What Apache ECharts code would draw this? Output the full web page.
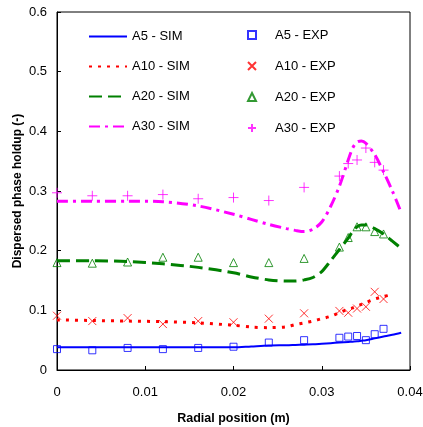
<!DOCTYPE html>
<html>
<head>
<meta charset="utf-8">
<script src="https://cdn.jsdelivr.net/npm/echarts@6/dist/echarts.min.js"></script>
<style>html,body{margin:0;padding:0;background:#fff;}#c{width:423px;height:427px;}</style>
</head>
<body>
<div id="c"></div>
<script>
// Tick values
const xTicks = [0, 0.01, 0.02, 0.03, 0.04];
const yTicks = [0, 0.1, 0.2, 0.3, 0.4, 0.5, 0.6];

// Simulation curves (radial position, m)
const simX = [0, 0.004, 0.008, 0.012, 0.016, 0.020, 0.022, 0.024, 0.026, 0.027, 0.028, 0.029, 0.030, 0.031, 0.032, 0.033, 0.0335, 0.034, 0.0345, 0.035, 0.036, 0.037, 0.038, 0.039];
const a5Sim  = [0.038, 0.038, 0.038, 0.038, 0.038, 0.038, 0.0395, 0.041, 0.0415, 0.042, 0.0425, 0.043, 0.044, 0.045, 0.046, 0.047, 0.0475, 0.048, 0.049, 0.050, 0.053, 0.056, 0.059, 0.0625];
const a10Sim = [0.084, 0.083, 0.082, 0.081, 0.079, 0.075, 0.072, 0.071, 0.0725, 0.076, 0.079, 0.082, 0.086, 0.090, 0.096, 0.102, 0.104, 0.107, 0.110, 0.113, 0.119, 0.123, 0.127, null];
const a20Sim = [0.183, 0.183, 0.182, 0.178, 0.172, 0.163, 0.156, 0.151, 0.149, 0.149, 0.151, 0.155, 0.165, 0.183, 0.202, 0.221, 0.232, 0.240, 0.243, 0.243, 0.237, 0.228, 0.216, 0.204];
const a30Sim = [0.283, 0.283, 0.283, 0.282, 0.275, 0.261, 0.2525, 0.244, 0.237, 0.234, 0.232, 0.236, 0.248, 0.274, 0.308, 0.352, 0.372, 0.382, 0.384, 0.380, 0.361, 0.332, 0.300, 0.264];

// Experimental points
const expX = [0, 0.004, 0.008, 0.012, 0.016, 0.020, 0.024, 0.028, 0.032, 0.033, 0.034, 0.035, 0.036, 0.037];
const a5Exp  = [0.035, 0.033, 0.037, 0.035, 0.037, 0.039, 0.046, 0.050, 0.054, 0.056, 0.057, 0.050, 0.060, 0.069];
const a10Exp = [0.091, 0.082, 0.087, 0.077, 0.082, 0.080, 0.086, 0.095, 0.099, 0.096, 0.103, 0.106, 0.131, 0.119];
const a20Exp = [0.180, 0.179, 0.181, 0.189, 0.189, 0.180, 0.180, 0.187, 0.206, 0.222, 0.240, 0.240, 0.232, 0.228];
const a30Exp = [0.297, 0.292, 0.292, 0.294, 0.287, 0.289, 0.284, 0.306, 0.325, 0.346, 0.352, 0.372, 0.348, 0.335];

const simNames = ['A5 - SIM', 'A10 - SIM', 'A20 - SIM', 'A30 - SIM'];
const expNames = ['A5 - EXP', 'A10 - EXP', 'A20 - EXP', 'A30 - EXP'];

const pair = (xs, ys) => xs.map((x, i) => [x, ys[i]]);
const FONT = '"Liberation Sans", Arial, Helvetica, sans-serif';

const chart = echarts.init(document.getElementById('c'), null, {renderer: 'canvas'});

function simSeries(name, ys, color, width, dash) {
  return {
    name, type: 'line', data: pair(simX, ys), showSymbol: false, symbol: 'none',
    smooth: 0.3, connectNulls: false,
    lineStyle: {color, width, type: dash, cap: 'butt'},
    itemStyle: {color, opacity: 0}, emphasis: {disabled: true}, z: 2
  };
}
function expSeries(name, ys, color, symbol, size) {
  return {
    name, type: 'scatter', data: pair(expX, ys), symbol, symbolSize: size,
    itemStyle: {color: 'rgba(0,0,0,0)', borderColor: color, borderWidth: 1},
    emphasis: {disabled: true}, z: 3
  };
}

chart.setOption({
  animation: false,
  backgroundColor: '#fff',
  grid: {left: 57, right: 13, top: 12, bottom: 57, show: true, borderColor: '#000', borderWidth: 1,
    backgroundColor: 'transparent', containLabel: false, outerBoundsMode: 'none'},
  xAxis: {
    type: 'value', min: xTicks[0], max: xTicks[xTicks.length - 1], interval: 0.01,
    name: 'Radial position (m)', nameLocation: 'middle', nameGap: 42, nameMoveOverlap: false,
    nameTextStyle: {fontFamily: FONT, fontSize: 12.5, fontWeight: 'bold', color: '#000'},
    axisLine: {show: true, lineStyle: {color: '#000', width: 1}},
    axisTick: {show: true, inside: true, length: 4, lineStyle: {color: '#000'}},
    axisLabel: {fontFamily: FONT, fontSize: 13, color: '#000', margin: 16,
      formatter: v => String(Math.round(v * 1000) / 1000)},
    splitLine: {show: false}
  },
  yAxis: {
    type: 'value', min: yTicks[0], max: yTicks[yTicks.length - 1], interval: 0.1,
    name: 'Dispersed phase holdup (-)', nameLocation: 'middle', nameGap: 33, nameMoveOverlap: false,
    nameTextStyle: {fontFamily: FONT, fontSize: 12, fontWeight: 'bold', color: '#000'},
    axisLine: {show: true, lineStyle: {color: '#000', width: 1}},
    axisTick: {show: true, inside: true, length: 4, lineStyle: {color: '#000'}},
    axisLabel: {fontFamily: FONT, fontSize: 13, color: '#000', margin: 10,
      formatter: v => String(Math.round(v * 10) / 10)},
    splitLine: {show: false}
  },
  legend: [
    {
      data: simNames, orient: 'vertical', left: 88, top: 30, padding: 0,
      itemWidth: 38, itemHeight: 14, itemGap: 17,
      textStyle: {fontFamily: FONT, fontSize: 13, color: '#000'},
      selectedMode: false
    },
    {
      data: expNames, orient: 'vertical', left: 247, top: 28, padding: 0,
      itemWidth: 8, itemHeight: 8, itemGap: 17,
      textStyle: {fontFamily: FONT, fontSize: 13, color: '#000', lineHeight: 14, padding: [0, 0, 0, 14]},
      selectedMode: false
    }
  ],
  series: [
    simSeries(simNames[0], a5Sim, '#0000ff', 2, 'solid'),
    simSeries(simNames[1], a10Sim, '#ff0000', 3, [3, 6]),
    simSeries(simNames[2], a20Sim, '#008000', 3, [13, 6]),
    simSeries(simNames[3], a30Sim, '#ff00ff', 3, [11, 5, 3, 5]),
    expSeries(expNames[0], a5Exp, '#0000ff', 'rect', 7),
    expSeries(expNames[1], a10Exp, '#ff0000', 'path://M0,0L10,10M10,0L0,10', 8),
    expSeries(expNames[2], a20Exp, '#008000', 'triangle', 8),
    expSeries(expNames[3], a30Exp, '#ff00ff', 'path://M5,0L5,10M0,5L10,5', 10)
  ]
});
</script>
</body>
</html>
